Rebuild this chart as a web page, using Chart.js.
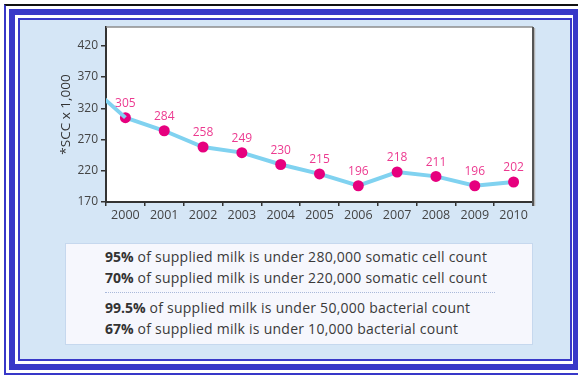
<!DOCTYPE html>
<html>
<head>
<meta charset="utf-8">
<script src="https://cdn.jsdelivr.net/npm/chart.js@4/dist/chart.umd.min.js"></script>
<style>
  html, body { margin: 0; padding: 0; background: #fff; }
  body { width: 578px; height: 376px; position: relative; overflow: hidden; font-family: "Open Sans", sans-serif; }
  .frame { position: absolute; box-sizing: border-box; }
  #frameA { left: 4px; top: 4px; right: -20px; bottom: 1px; border: 2px solid #3838c8; border-top-color: #111; }
  #frameB { left: 9px; top: 9px; right: -1px; bottom: 6px; border: 6px solid #3838c8; }
  #frameC { left: 18px; top: 18px; right: 6px; bottom: 15px; border: 2px solid #3838c8; background: #d5e6f6; }
  #chart { position: absolute; left: 0; top: 0; }
  #notes { position: absolute; left: 65px; top: 243px; width: 468px; height: 102px; box-sizing: border-box;
           background: #f6f7fd; border: 1px solid #c6d8ee; }
  .note { position: absolute; left: 39px; font-size: 14px; letter-spacing: 0.25px; color: #3a3a3a; white-space: nowrap; line-height: 16px; }
  .note b { font-weight: 700; color: #333; letter-spacing: 0; }
  #sep { position: absolute; left: 39px; width: 390px; top: 48px; border-top: 1px dotted #a9b9da; }
</style>
</head>
<body>
<div class="frame" id="frameA"></div>
<div class="frame" id="frameB"></div>
<div class="frame" id="frameC"></div>
<canvas id="chart" width="578" height="376"></canvas>
<div id="notes">
  <div class="note" style="top:5px"><b>95%</b> of supplied milk is under 280,000 somatic cell count</div>
  <div class="note" style="top:26px"><b>70%</b> of supplied milk is under 220,000 somatic cell count</div>
  <div id="sep"></div>
  <div class="note" style="top:56px"><b>99.5%</b> of supplied milk is under 50,000 bacterial count</div>
  <div class="note" style="top:77px"><b>67%</b> of supplied milk is under 10,000 bacterial count</div>
</div>
<script>
// somatic cell count per year (x 1,000)
const years = [2000, 2001, 2002, 2003, 2004, 2005, 2006, 2007, 2008, 2009, 2010];
const scc = [305, 284, 258, 249, 230, 215, 196, 218, 211, 196, 202];
// the line runs in from the previous year at the left edge
const leadYear = 1999;
const leadValue = 360;
const yTicks = [170, 220, 270, 320, 370, 420];

const lineColor = '#80d2f0';
const pointColor = '#e6007e';
const labelColor = '#ec3a90';
const axisColor = '#333';

// white plot area with grey top and shaded right edge
const plotFrame = {
    id: 'plotFrame',
    beforeDraw(chart) {
        const { ctx, chartArea: a } = chart;
        ctx.save();
        ctx.fillStyle = '#fff';
        ctx.fillRect(a.left, a.top, a.right - a.left, a.bottom - a.top);
        ctx.restore();
    },
    afterDraw(chart) {
        const { ctx, chartArea: a } = chart;
        ctx.save();
        ctx.strokeStyle = '#8c8c8c';
        ctx.lineWidth = 1.5;
        ctx.beginPath();
        ctx.moveTo(a.left, a.top);
        ctx.lineTo(a.right, a.top);
        ctx.stroke();
        ctx.strokeStyle = '#b4b4b4';
        ctx.lineWidth = 1.5;
        ctx.beginPath();
        ctx.moveTo(a.right + 1.5, a.top + 1);
        ctx.lineTo(a.right + 1.5, a.bottom + 4);
        ctx.stroke();
        ctx.strokeStyle = '#555';
        ctx.lineWidth = 2;
        ctx.beginPath();
        ctx.moveTo(a.right, a.top);
        ctx.lineTo(a.right, a.bottom + 4);
        ctx.stroke();
        ctx.restore();
    }
};

// value labels above the points
const valueLabels = {
    id: 'valueLabels',
    afterDatasetsDraw(chart) {
        const { ctx } = chart;
        const meta = chart.getDatasetMeta(1);
        ctx.save();
        ctx.font = '12px "Open Sans", sans-serif';
        ctx.fillStyle = labelColor;
        ctx.textAlign = 'center';
        ctx.textBaseline = 'middle';
        meta.data.forEach((pt, i) => {
            ctx.fillText(String(scc[i]), pt.x, pt.y - 14);
        });
        ctx.restore();
    }
};

const ctx = document.getElementById('chart').getContext('2d');
new Chart(ctx, {
    type: 'line',
    data: {
        labels: years.map(String),
        datasets: [{
            data: [{ x: leadYear, y: leadValue }, { x: years[0], y: scc[0] }],
            xAxisID: 'x2',
            borderColor: lineColor,
            borderWidth: 4,
            pointRadius: 0,
            clip: 0
        }, {
            data: years.map((y, i) => ({ x: y, y: scc[i] })),
            xAxisID: 'x2',
            borderColor: lineColor,
            borderWidth: 4,
            pointRadius: 5.5,
            pointBackgroundColor: pointColor,
            pointBorderColor: pointColor,
            pointBorderWidth: 0,
            clip: 0
        }]
    },
    options: {
        responsive: false,
        animation: false,
        events: [],
        layout: { padding: { left: 56, top: 27, right: 45, bottom: 150 } },
        plugins: { legend: { display: false }, tooltip: { enabled: false } },
        scales: {
            x: {
                type: 'category',
                offset: true,
                grid: { offset: true, drawOnChartArea: false, tickLength: 4, color: axisColor, lineWidth: 1.5 },
                border: { color: axisColor, width: 2 },
                ticks: { padding: 2, color: '#444', font: { family: 'Open Sans', size: 12.5 }, maxRotation: 0 },
                afterFit(scale) { scale.height = 24; }
            },
            x2: {
                type: 'linear',
                display: false,
                min: leadYear + 0.5,
                max: years[years.length - 1] + 0.5
            },
            y: {
                min: 170,
                max: 450,
                afterBuildTicks(scale) { scale.ticks = yTicks.map(v => ({ value: v })); },
                grid: { drawOnChartArea: false, tickLength: 5, color: axisColor, lineWidth: 1.5 },
                border: { color: axisColor, width: 2 },
                ticks: { padding: 3, color: '#444', font: { family: 'Open Sans', size: 12 } },
                title: { display: true, text: '*SCC x 1,000', color: '#333', font: { family: 'Open Sans', size: 13.5 }, padding: { top: 2, bottom: 2 } },
                afterFit(scale) { scale.width = 50; }
            }
        }
    },
    plugins: [plotFrame, valueLabels]
});
</script>
</body>
</html>
